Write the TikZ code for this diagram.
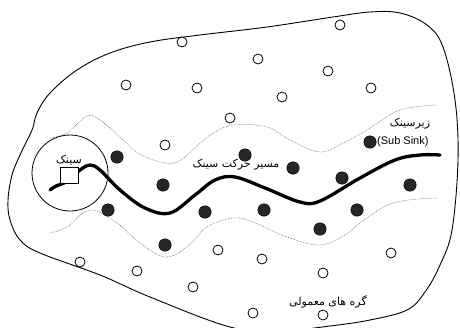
\documentclass[tikz,border=0pt]{standalone}
\usepackage{fontspec}
\setmainfont{Liberation Sans}
\newfontfamily\farsi[Script=Arabic]{DejaVu Sans}
\TeXXeTstate=1
\usepackage{tikz}
\usetikzlibrary{positioning}

\begin{document}
\begin{tikzpicture}[x=1pt, y=-1pt, node distance=1pt,
  plain/.style={draw, circle, fill=white, line width=0.8pt, minimum size=10pt, inner sep=0pt},
  headnode/.style={draw, circle, fill=black!85, minimum size=12.5pt, inner sep=0pt},
  band/.style={black!60, densely dotted, line width=0.6pt},
  lbl/.style={inner sep=1pt, font=\farsi\fontsize{11}{13}\selectfont}]
\useasboundingbox (0,0) rectangle (460,327);
% network area
\draw[line width=0.9pt] plot[smooth cycle, tension=0.6] coordinates {(37,113) (50,93) (77,70) (110,53) (150,42) (200,35) (267,27) (333,17) (370,12) (400,13) (427,25) (443,47) (455,100) (458,160) (452,230) (440,265) (425,292) (407,310) (370,320) (330,326) (280,331) (230,327) (150,297) (100,275) (40,253) (20,240) (10,220) (8,200) (12,175) (20,155) (32,130)};
% sub-sink band
\draw[band] plot[smooth, tension=0.6] coordinates {(50,138) (67,133) (87,116) (100,120) (120,137) (138,153) (160,162) (177,162) (195,148) (210,135) (233,125) (267,127) (290,140) (320,152) (345,142) (367,130) (400,110) (437,105)};
\draw[band] plot[smooth, tension=0.6] coordinates {(50,233) (67,227) (90,210) (117,223) (140,243) (165,257) (187,247) (207,227) (233,218) (253,222) (287,237) (320,245) (345,235) (360,223) (393,203) (437,198)};
% sink region
\node[draw, circle, minimum size=76pt, inner sep=0pt, line width=0.8pt] (zone) at (70,173) {};
% sink trajectory
\draw[line width=3.3pt, line cap=round] plot[smooth, tension=0.6] coordinates {(50,190) (56,186) (64,183) (72,177) (80,170) (90,165) (100,170) (120,190) (145,208) (170,213) (195,195) (215,180) (235,177) (265,188) (300,202) (320,201) (360,178) (395,160) (420,155) (440,155)};
\node[draw, fill=white, minimum width=18pt, minimum height=16pt, inner sep=0pt, line width=0.8pt] (sink) at (69,175) {};
\node[lbl] (sinklbl) [above=0pt of sink] {\beginR سینک\endR};
% cluster heads
\foreach \p [count=\i] in {(117,157),(108,210),(163,185),(245,155),(293,168),(205,212),(264,210),(342,178),(370,142),(410,185),(357,210),(320,229),(165,245)}
  \node[headnode] (h\i) at \p {};
% ordinary nodes
\foreach \p [count=\i] in {(182,42),(340,25),(258,59),(328,71),(126,85),(197,88),(282,97),(371,88),(230,118),(165,145),(80,262),(137,271),(193,287),(218,250),(262,259),(323,273),(391,253),(253,313),(323,315)}
  \node[plain] (n\i) at \p {};
% labels
\node[lbl] (path) at (236,165) {\beginR مسیر حرکت سینک\endR};
\node[inner sep=0pt, font=\fontsize{11}{13}\selectfont] (sub) [right=0.5pt of h9] {(Sub Sink)};
\node[lbl] (sublbl) at (410,124) {\beginR زیرسینک\endR};
\node[lbl] (ord) at (328,302) {\beginR گره های معمولی\endR};
\end{tikzpicture}
\end{document}
